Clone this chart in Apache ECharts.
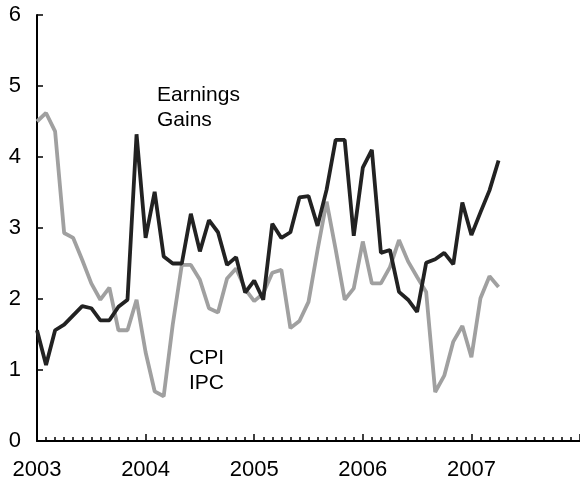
<!DOCTYPE html>
<html>
<head>
<meta charset="utf-8">
<script src="https://cdn.jsdelivr.net/npm/echarts@6/dist/echarts.min.js"></script>
<style>
  html, body { margin: 0; padding: 0; background: #fff; }
  #chart { width: 580px; height: 482px; }
</style>
</head>
<body>
<div id="chart"></div>
<script>
// Months counted from January 2003 (0 = Jan 2003)
const yearLabels = ['2003', '2004', '2005', '2006', '2007'];

// Earnings gains, % year over year (black line)
const earnings = [
  1.56, 1.07, 1.56, 1.64, 1.77, 1.90, 1.87, 1.70, 1.70, 1.89, 1.99, 4.32,
  2.86, 3.51, 2.60, 2.50, 2.50, 3.20, 2.67, 3.11, 2.94, 2.48, 2.59, 2.09,
  2.26, 1.99, 3.06, 2.86, 2.94, 3.43, 3.45, 3.03, 3.54, 4.24, 4.24, 2.89,
  3.85, 4.10, 2.65, 2.69, 2.10, 1.99, 1.82, 2.51, 2.56, 2.65, 2.49, 3.36,
  2.90, 3.22, 3.53, 3.95
];

// CPI, % year over year (grey line)
const cpi = [
  4.50, 4.62, 4.36, 2.93, 2.86, 2.55, 2.22, 1.99, 2.16, 1.56, 1.56, 1.99,
  1.25, 0.70, 0.63, 1.64, 2.48, 2.48, 2.27, 1.87, 1.81, 2.29, 2.43, 2.14,
  1.97, 2.08, 2.37, 2.41, 1.59, 1.69, 1.96, 2.69, 3.37, 2.70, 1.99, 2.15,
  2.81, 2.22, 2.22, 2.45, 2.83, 2.53, 2.31, 2.10, 0.69, 0.92, 1.40, 1.62,
  1.18, 2.01, 2.32, 2.17
];

const chart = echarts.init(document.getElementById('chart'));
const fontFamily = '"Liberation Sans", Arial, Helvetica, sans-serif';

chart.setOption({
  animation: false,
  backgroundColor: '#fff',
  grid: { left: 37, right: -11, top: 15, bottom: 41, containLabel: false },
  xAxis: {
    type: 'value',
    min: 0,
    max: 60,
    interval: 12,
    axisLine: { show: true, lineStyle: { color: '#000', width: 2 } },
    axisTick: { show: true, inside: true, length: 7, lineStyle: { color: '#000', width: 1.5 } },
    minorTick: { show: true, splitNumber: 12, length: 4, lineStyle: { color: '#000', width: 1.5 } },
    splitLine: { show: false },
    axisLabel: {
      color: '#000',
      fontSize: 22,
      fontFamily: fontFamily,
      margin: 18,
      showMaxLabel: false,
      formatter: v => (v % 12 === 0 && yearLabels[v / 12]) ? yearLabels[v / 12] : ''
    }
  },
  yAxis: {
    type: 'value',
    min: 0,
    max: 6,
    interval: 1,
    axisLine: { show: true, lineStyle: { color: '#000', width: 2 } },
    axisTick: { show: true, inside: true, length: 6, lineStyle: { color: '#000', width: 1.5 } },
    splitLine: { show: false },
    axisLabel: { color: '#000', fontSize: 22, fontFamily: fontFamily, margin: 16 }
  },
  series: [
    {
      name: 'CPI',
      type: 'line',
      showSymbol: false,
      data: cpi.map((v, i) => [i, v]),
      lineStyle: { color: '#a0a0a0', width: 3.8 },
      itemStyle: { color: '#a0a0a0' }
    },
    {
      name: 'Earnings Gains',
      type: 'line',
      showSymbol: false,
      data: earnings.map((v, i) => [i, v]),
      lineStyle: { color: '#222', width: 3.8 },
      itemStyle: { color: '#222' }
    }
  ],
  graphic: [
    {
      type: 'text',
      left: 157,
      top: 82,
      style: { text: 'Earnings\nGains', fill: '#000', font: '21px ' + fontFamily, lineHeight: 25.5 }
    },
    {
      type: 'text',
      left: 189,
      top: 346,
      style: { text: 'CPI\nIPC', fill: '#000', font: '21px ' + fontFamily, lineHeight: 25 }
    }
  ]
});
</script>
</body>
</html>
